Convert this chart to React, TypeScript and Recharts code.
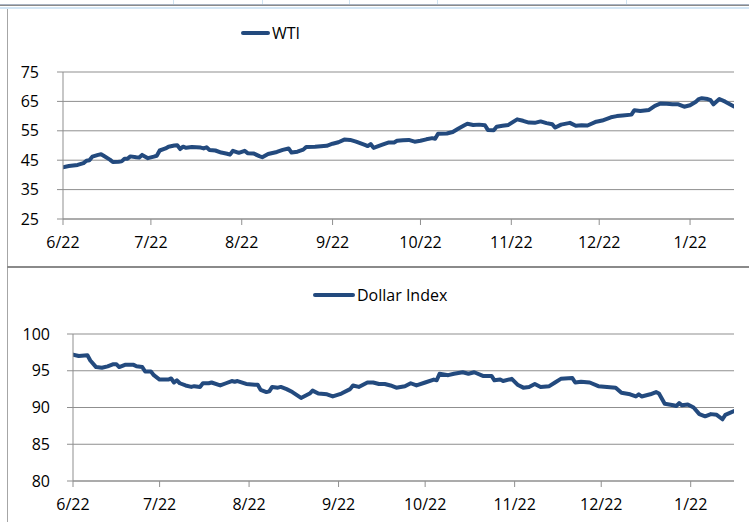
import React from "react";
import { LineChart, Line, XAxis, YAxis, CartesianGrid } from "recharts";

// Days counted from 6/22
const tickDays = [0, 30, 61, 92, 122, 153, 183, 214];
const tickLabels = ["6/22", "7/22", "8/22", "9/22", "10/22", "11/22", "12/22", "1/22"];

const wtiDays = [0, 2, 5, 7, 8, 9, 10, 12, 13, 14, 16, 17, 19, 20, 21, 22, 23, 25, 26, 27, 29, 31, 32, 33, 35, 36, 38, 39, 40, 41, 42, 44, 47, 48, 49, 50, 52, 54, 56, 57, 58, 60, 62, 63, 65, 67, 68, 70, 73, 75, 77, 78, 80, 82, 83, 86, 90, 92, 94, 96, 98, 100, 103, 104, 105, 106, 109, 111, 113, 114, 116, 118, 120, 122, 124, 126, 127, 128, 131, 133, 135, 137, 138, 140, 142, 144, 145, 147, 148, 150, 152, 155, 157, 159, 161, 163, 165, 167, 168, 170, 173, 175, 177, 179, 182, 184, 187, 189, 191, 194, 195, 197, 200, 202, 204, 206, 208, 210, 212, 214, 216, 217, 218, 220, 221, 222, 224, 226, 229];
const wtiValues = [42.6, 43.0, 43.4, 44.0, 44.8, 45.0, 46.2, 46.8, 47.0, 46.4, 45.2, 44.4, 44.5, 44.6, 45.5, 45.5, 46.3, 46.0, 45.9, 46.8, 45.7, 46.2, 46.5, 48.3, 49.0, 49.6, 50.0, 50.1, 48.8, 49.6, 49.2, 49.5, 49.3, 49.0, 49.4, 48.5, 48.3, 47.6, 47.2, 46.9, 48.2, 47.5, 48.2, 47.4, 47.3, 46.4, 46.0, 47.1, 47.8, 48.5, 49.0, 47.6, 47.9, 48.6, 49.5, 49.6, 49.9, 50.6, 51.1, 52.0, 51.9, 51.3, 50.2, 49.8, 50.5, 49.2, 50.3, 51.0, 51.0, 51.6, 51.8, 51.9, 51.3, 51.6, 52.1, 52.5, 52.3, 54.0, 54.1, 54.6, 55.8, 56.9, 57.4, 57.0, 57.1, 56.9, 55.3, 55.2, 56.4, 56.7, 57.0, 58.9, 58.4, 57.8, 57.7, 58.2, 57.6, 57.2, 56.1, 57.1, 57.7, 56.7, 56.9, 56.8, 58.1, 58.5, 59.6, 60.0, 60.2, 60.5, 62.0, 61.7, 62.1, 63.5, 64.3, 64.2, 64.0, 64.0, 63.2, 63.7, 64.9, 65.8, 66.1, 65.8, 65.4, 64.0, 65.8, 64.9, 63.3];

const dxyDays = [0, 2, 5, 6, 8, 10, 12, 14, 15, 16, 18, 21, 22, 24, 25, 27, 28, 30, 33, 34, 35, 36, 37, 39, 41, 42, 44, 45, 47, 48, 51, 53, 55, 56, 57, 60, 63, 64, 65, 67, 68, 69, 71, 72, 74, 76, 79, 81, 82, 83, 85, 88, 90, 93, 96, 97, 99, 102, 104, 106, 108, 110, 112, 115, 117, 119, 122, 125, 126, 127, 130, 132, 135, 137, 139, 142, 145, 146, 148, 149, 152, 154, 156, 158, 160, 162, 165, 167, 169, 173, 174, 176, 179, 182, 185, 188, 190, 193, 195, 196, 197, 200, 202, 203, 205, 208, 209, 210, 211, 213, 215, 217, 219, 221, 223, 225, 226, 229];
const dxyValues = [97.2, 97.0, 97.1, 96.4, 95.5, 95.4, 95.6, 95.9, 95.9, 95.5, 95.8, 95.8, 95.6, 95.5, 94.9, 94.9, 94.4, 93.8, 93.8, 93.95, 93.4, 93.7, 93.3, 93.0, 92.8, 92.9, 92.8, 93.3, 93.3, 93.4, 93.0, 93.3, 93.6, 93.5, 93.6, 93.2, 93.1, 93.1, 92.4, 92.1, 92.2, 92.8, 92.7, 92.8, 92.5, 92.1, 91.3, 91.7, 91.9, 92.3, 91.9, 91.8, 91.5, 91.9, 92.5, 93.0, 92.8, 93.4, 93.4, 93.2, 93.2, 93.0, 92.7, 92.9, 93.3, 93.0, 93.4, 93.8, 93.7, 94.6, 94.4, 94.6, 94.8, 94.6, 94.8, 94.3, 94.3, 93.7, 93.8, 93.6, 93.9, 93.1, 92.7, 92.8, 93.2, 92.8, 92.9, 93.4, 93.9, 94.0, 93.4, 93.5, 93.4, 92.9, 92.8, 92.7, 92.0, 91.8, 91.5, 91.8, 91.5, 91.8, 92.1, 91.9, 90.5, 90.3, 90.2, 90.6, 90.3, 90.4, 90.0, 89.1, 88.8, 89.1, 89.0, 88.4, 89.0, 89.5];

const wtiTicks = [25, 35, 45, 55, 65, 75];
const dxyTicks = [80, 85, 90, 95, 100];

const wtiData = wtiDays.map((d, i) => ({ d, v: wtiValues[i] }));
const dxyData = dxyDays.map((d, i) => ({ d, v: dxyValues[i] }));

const LINE = "#234a7e";
const GRID = "#8f8f8f";
const FONT = "'Open Sans', 'Noto Sans', sans-serif";
const tickStyle = { fontSize: 16, fill: "#000", fontFamily: FONT };
const fmt = (d: number) => tickLabels[tickDays.indexOf(d)] ?? "";

function LegendItem({ left, top, label, lineW }: { left: number; top: number; label: string; lineW: number }) {
  return (
    <div style={{ position: "absolute", left, top, display: "flex", alignItems: "center", fontFamily: FONT, fontSize: 16, color: "#000", whiteSpace: "nowrap" }}>
      <div style={{ width: lineW, height: 4, borderRadius: 2, background: LINE, marginRight: 2 }} />
      <span>{label}</span>
    </div>
  );
}

export default function App() {
  const blueCols = [173, 262, 349, 437, 626];
  return (
    <div style={{ position: "absolute", left: 0, top: 0, width: 749, height: 522, background: "#fff", overflow: "hidden" }}>
      {blueCols.map((x) => (
        <div key={x} style={{ position: "absolute", left: x, top: 0, width: 1, height: 4, background: "#cfe3f1" }} />
      ))}
      <div style={{ position: "absolute", left: 0, top: 4, width: 749, height: 1, background: "#a9b3c2" }} />
      <div style={{ position: "absolute", left: 0, top: 5, width: 749, height: 1, background: "#8a8a8a" }} />
      <div style={{ position: "absolute", left: 0, top: 7, width: 749, height: 2, background: "#d3e6f5" }} />
      <div style={{ position: "absolute", left: 7, top: 9, width: 1, height: 513, background: "#a6a6a6" }} />
      <div style={{ position: "absolute", left: 7, top: 266, width: 742, height: 2, background: "#8a8a8a" }} />

      <div style={{ position: "absolute", left: 7, top: 8 }}>
        <LineChart width={742} height={258} data={wtiData} margin={{ top: 64, right: 15, bottom: 17, left: 0 }}>
          <CartesianGrid vertical={false} stroke={GRID} strokeWidth={1} />
          <XAxis dataKey="d" type="number" domain={[0, 229]} ticks={tickDays} tickFormatter={fmt} interval={0}
            stroke={GRID} tickSize={6} tickMargin={12} height={30} tick={tickStyle} allowDataOverflow />
          <YAxis type="number" domain={[25, 75]} ticks={wtiTicks} interval={0} width={56}
            stroke={GRID} tickSize={6} tickMargin={18} tick={tickStyle} />
          <Line type="linear" dataKey="v" stroke={LINE} strokeWidth={4} dot={false} isAnimationActive={false} strokeLinejoin="round" strokeLinecap="round" />
        </LineChart>
      </div>
      <LegendItem left={241} top={22} label="WTI" lineW={29} />

      <div style={{ position: "absolute", left: 7, top: 268 }}>
        <LineChart width={742} height={254} data={dxyData} margin={{ top: 66, right: 15, bottom: 11, left: 0 }}>
          <CartesianGrid vertical={false} stroke={GRID} strokeWidth={1} />
          <XAxis dataKey="d" type="number" domain={[0, 229]} ticks={tickDays} tickFormatter={fmt} interval={0}
            stroke={GRID} tickSize={6} tickMargin={12} height={30} tick={tickStyle} allowDataOverflow />
          <YAxis type="number" domain={[80, 100]} ticks={dxyTicks} interval={0} width={66}
            stroke={GRID} tickSize={6} tickMargin={17} tick={tickStyle} />
          <Line type="linear" dataKey="v" stroke={LINE} strokeWidth={4} dot={false} isAnimationActive={false} strokeLinejoin="round" strokeLinecap="round" />
        </LineChart>
      </div>
      <LegendItem left={313} top={284} label="Dollar Index" lineW={42} />
    </div>
  );
}
